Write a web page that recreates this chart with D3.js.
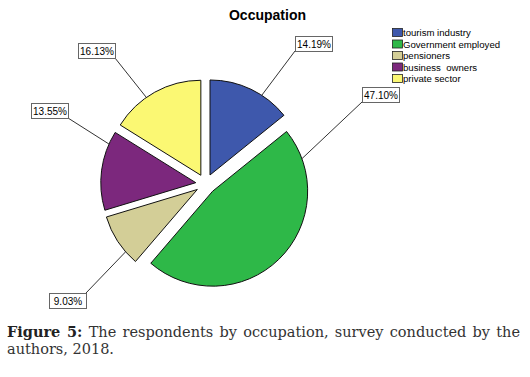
<!DOCTYPE html>
<html>
<head>
<meta charset="utf-8">
<script src="https://cdn.jsdelivr.net/npm/d3@7"></script>
<style>
  body { margin: 0; background: #fff; }
  svg { display: block; }
</style>
</head>
<body>
<svg id="chart" width="530" height="377"></svg>
<script>
// data
const categories = ['tourism industry', 'Government employed', 'pensioners', 'business  owners', 'private sector']
const percents = [14.19, 47.10, 9.03, 13.55, 16.13]
const colors = ['#3e58ac', '#2eb848', '#d3ce97', '#7c287d', '#fbf873']

const title = 'Occupation'
const captionBold = 'Figure 5:'
const captionLine1 = 'The respondents by occupation, survey conducted by the'
const captionLine2 = 'authors, 2018.'

// label box placement (top-left of box) and where the leader touches the rim, in degrees
const labelBoxes = [[295, 36], [362, 87], [49, 293], [31, 103], [78, 43]]
const leaderAngles = [33, 70, 229, 294, 325]

const config = { cx: 205.7, cy: 184, radius: 95, explode: 10, boxW: 37, boxH: 15 }

const svg = d3.select('#chart')

svg.append('text')
    .attr('x', 267.5)
    .attr('y', 20)
    .attr('text-anchor', 'middle')
    .style('font', 'bold 14px "Liberation Sans", Arial, sans-serif')
    .text(title)

const data = categories.map((c, i) => ({ name: c, value: percents[i], color: colors[i] }))

const pie = d3.pie().sort(null).value(d => d.value)
const arcs = pie(data)
const arc = d3.arc().innerRadius(0).outerRadius(config.radius)

const g = svg.append('g').attr('transform', 'translate(' + config.cx + ',' + config.cy + ')')

function sliceOffset(d) {
    const mid = (d.startAngle + d.endAngle) / 2
    return [Math.sin(mid) * config.explode, -Math.cos(mid) * config.explode]
}

g.selectAll('path.slice')
    .data(arcs)
    .enter().append('path')
    .attr('class', 'slice')
    .attr('transform', function(d) { const o = sliceOffset(d); return 'translate(' + o[0] + ',' + o[1] + ')' })
    .attr('d', arc)
    .attr('fill', d => d.data.color)
    .attr('stroke', '#111')
    .attr('stroke-width', 1)

// leader lines + label boxes
const fmt = d3.format('.2f')
arcs.forEach(function(d, i) {
    const o = sliceOffset(d)
    const a = leaderAngles[i] * Math.PI / 180
    const px = config.cx + o[0] + Math.sin(a) * config.radius
    const py = config.cy + o[1] - Math.cos(a) * config.radius
    const bx = labelBoxes[i][0], by = labelBoxes[i][1]
    const corners = [[bx, by], [bx + config.boxW, by], [bx, by + config.boxH], [bx + config.boxW, by + config.boxH]]
    let best = corners[0]
    corners.forEach(function(c) {
        if (Math.hypot(c[0] - px, c[1] - py) < Math.hypot(best[0] - px, best[1] - py)) best = c
    })
    svg.append('line')
        .attr('x1', px).attr('y1', py)
        .attr('x2', best[0]).attr('y2', best[1])
        .attr('stroke', '#333')
        .attr('stroke-width', 1)
    svg.append('rect')
        .attr('x', bx + 0.5).attr('y', by + 0.5)
        .attr('width', config.boxW).attr('height', config.boxH)
        .attr('fill', '#fff')
        .attr('stroke', '#666')
        .attr('stroke-width', 1)
    svg.append('text')
        .attr('x', bx + config.boxW / 2 + 0.5)
        .attr('y', by + config.boxH / 2 + 4)
        .attr('text-anchor', 'middle')
        .style('font', '10px "Liberation Sans", Arial, sans-serif')
        .text(fmt(d.data.value) + '%')
})

// legend
const legend = svg.append('g').attr('transform', 'translate(392,28)')
const rows = legend.selectAll('g')
    .data(data)
    .enter().append('g')
    .attr('transform', (d, i) => 'translate(0,' + (i * 11.5) + ')')
rows.append('rect')
    .attr('x', 0.5).attr('y', 0.5)
    .attr('width', 10).attr('height', 8)
    .attr('fill', d => d.color)
    .attr('stroke', '#222')
    .attr('stroke-width', 0.8)
rows.append('text')
    .attr('x', 11)
    .attr('y', 8)
    .style('font', '9.6px "Liberation Sans", Arial, sans-serif')
    .style('white-space', 'pre')
    .text(d => d.name)

// caption, first line justified to the full width
const capFont = '14.5px "DejaVu Serif", serif'
const left = 7, right = 520
const line1 = svg.append('text')
    .attr('x', left).attr('y', 337)
    .style('font', capFont)
    .attr('fill', '#333')
line1.append('tspan').style('font-weight', 'bold').attr('fill', '#222').text(captionBold)
line1.append('tspan').text(' ' + captionLine1)
const natural = line1.node().getComputedTextLength()
const spaces = (captionBold + ' ' + captionLine1).split(' ').length - 1
line1.style('word-spacing', ((right - left - natural) / spaces) + 'px')

svg.append('text')
    .attr('x', left).attr('y', 354)
    .style('font', capFont)
    .attr('fill', '#333')
    .text(captionLine2)
</script>
</body>
</html>
